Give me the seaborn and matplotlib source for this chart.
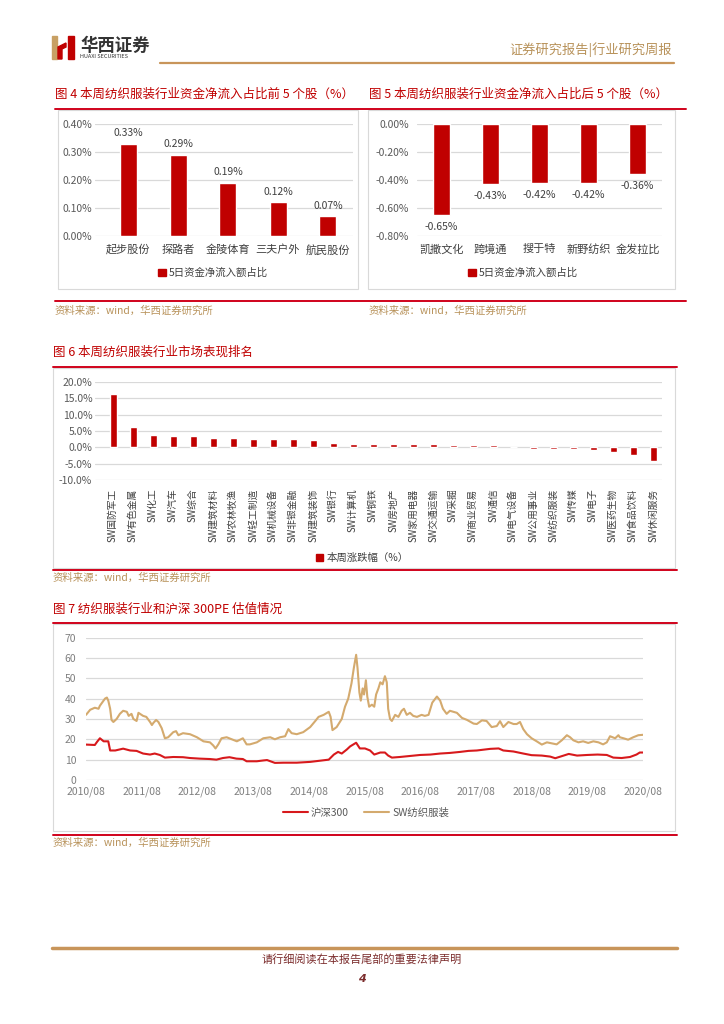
import matplotlib
matplotlib.use("Agg")
import matplotlib.pyplot as plt
import seaborn as sns
import pandas as pd
from matplotlib.lines import Line2D
from matplotlib.patches import Rectangle, Patch, Polygon

sns.set_style("white")
plt.rcParams['font.family'] = ['Noto Sans CJK SC', 'DejaVu Sans']
plt.rcParams['axes.unicode_minus'] = False

# ---- data ----
top5_names = ['起步股份', '探路者', '金陵体育', '三夫户外', '航民股份']
top5_vals = [0.33, 0.29, 0.19, 0.12, 0.07]

bot5_names = ['凯撒文化', '跨境通', '搜于特', '新野纺织', '金发拉比']
bot5_vals = [-0.65, -0.43, -0.42, -0.42, -0.36]

ind_names = ['SW国防军工', 'SW有色金属', 'SW化工', 'SW汽车', 'SW综合', 'SW建筑材料',
             'SW农林牧渔', 'SW轻工制造', 'SW机械设备', 'SW非银金融', 'SW建筑装饰',
             'SW银行', 'SW计算机', 'SW钢铁', 'SW房地产', 'SW家用电器', 'SW交通运输',
             'SW采掘', 'SW商业贸易', 'SW通信', 'SW电气设备', 'SW公用事业', 'SW纺织服装',
             'SW传媒', 'SW电子', 'SW医药生物', 'SW食品饮料', 'SW休闲服务']
ind_vals = [16.3, 6.1, 3.7, 3.6, 3.4, 3.0, 2.8, 2.7, 2.4, 2.4, 2.3, 1.4, 1.1, 1.0,
            0.9, 0.9, 0.9, 0.8, 0.8, 0.6, 0.05, -0.4, -0.4, -0.6, -0.9, -1.4, -2.3, -4.3]

# months since 2010/08
tex_m = [0, 0.9, 1.9, 2.7, 3, 4.1, 4.5, 4.8, 5.2, 5.5, 5.9, 6.6, 7.3, 8, 8.8, 9.2, 9.8,
         10.2, 10.9, 11.3, 12.3, 13, 13.8, 14.2, 14.5, 15.1, 15.6, 16.3, 17, 17.7, 18.8,
         19.4, 19.9, 20.9, 22.4, 23.9, 25.3, 26.7, 27.4, 27.9, 28.5, 29.2, 30.3, 31.4,
         32.5, 33.8, 34.6, 35.3, 36.8, 38.2, 39.7, 40.7, 41.8, 42.9, 43.6, 44.3, 45.4,
         46.8, 48.3, 49.4, 50.1, 51.2, 52.3, 52.7, 53.1, 54, 55.1, 55.8, 56.5, 57.2,
         57.7, 58.2, 58.5, 58.9, 59.2, 59.6, 59.9, 60.3, 60.6, 61, 61.6, 62.1, 62.5, 63,
         63.4, 63.9, 64.4, 64.8, 65.1, 65.5, 65.9, 66.6, 67.3, 68, 68.5, 69.1, 69.8,
         70.5, 71.3, 72.3, 73, 73.8, 74.6, 75.6, 76.3, 76.9, 77.7, 78.4, 79.9, 81, 82.1,
         83.5, 84.2, 85.3, 86.3, 87.4, 88.5, 89.2, 89.9, 91, 92.1, 92.8, 93.5, 94.2, 95,
         96, 97.1, 98.2, 99.3, 100.4, 101.4, 102.5, 103.6, 104.3, 105, 106.1, 107.1,
         108.2, 109.3, 110.4, 111.4, 112.2, 112.9, 114, 114.7, 115, 115.8, 116.8, 117.9,
         119, 120]
tex_pe = [32, 34.5, 35.5, 35, 36.5, 40, 40.5, 39, 35, 29.5, 28.5, 30, 32.5, 34, 33.5,
          31.5, 32.5, 30, 29, 33, 31.5, 31, 28.5, 27, 28, 29.5, 28.5, 25.5, 20.5, 21,
          23.5, 24, 22, 23, 22.5, 21, 19, 18.5, 17, 15.5, 17.5, 20.5, 21, 20, 19, 20.5,
          17.5, 17.5, 18.5, 20.5, 21, 20, 21, 21.5, 25, 23, 22.5, 23.5, 26, 29, 31, 32,
          33.5, 31, 24.5, 26, 30, 36, 40, 47.5, 55, 61.5, 55, 43, 39, 45, 42, 49, 41,
          36, 37, 36, 42, 45, 48, 47, 51, 48, 35, 30, 29, 32, 31, 34, 35, 32, 33, 31.5,
          31, 32, 31.5, 32, 38, 41, 39, 35, 32.5, 34, 33, 30.5, 29.5, 27.7, 27.5, 29.3,
          29, 26, 26.5, 28.9, 26, 28.5, 27.5, 27.5, 28.5, 25, 22.5, 20.5, 19, 17.4, 18.5,
          18, 17.5, 19.5, 22, 21, 19.5, 18.5, 19, 18.2, 19, 18.5, 17.5, 18.5, 21.5, 20.5,
          22, 21, 20.5, 19.8, 21, 22, 22.2]

hs_m = [0, 1.9, 2.4, 3, 3.8, 4.8, 5.2, 6.3, 8, 9.5, 10.9, 12.3, 13.8, 14.8, 15.9, 17,
        18.8, 20.9, 22.4, 24.5, 26.7, 28.1, 29.5, 30.9, 32.4, 33.8, 34.6, 36.8, 38.2, 39,
        40.7, 42.5, 45.4, 48.3, 50.5, 52.3, 53.4, 54.3, 55.1, 56.2, 56.9, 58.2, 59, 60.1,
        61.2, 62.1, 63.4, 64.4, 65.1, 65.9, 67.6, 69.8, 72, 74.2, 76.3, 78.4, 80.6, 82.4,
        84.2, 87.1, 88.9, 89.9, 92.1, 94.2, 96, 98.2, 100, 101.1, 102.9, 104, 105.8, 108,
        110.2, 112.2, 113.6, 115.4, 117.2, 118.6, 119.3, 120]
hs_pe = [17.4, 17.2, 18.8, 20.5, 19, 19, 14.5, 14.5, 15.4, 14.5, 14.3, 13, 12.5, 13,
         12.3, 11, 11.3, 11.2, 10.8, 10.5, 10.3, 10, 10.8, 11.2, 10.5, 10.3, 9.2, 9.2,
         9.6, 9.8, 8.4, 8.5, 8.5, 8.9, 9.5, 10, 12.5, 13.8, 13, 15, 16.5, 18.3, 15.5,
         15.5, 14.5, 12.5, 13.5, 13.5, 12, 11, 11.3, 11.8, 12.3, 12.5, 13, 13.3, 13.8,
         14.3, 14.5, 15.3, 15.5, 14.5, 14, 13, 12.2, 12, 11.5, 10.7, 12, 12.8, 12, 12.3,
         12.5, 12.3, 11, 10.8, 11.3, 12.5, 13.5, 13.5]
year_labels = ['2010/08', '2011/08', '2012/08', '2013/08', '2014/08', '2015/08',
               '2016/08', '2017/08', '2018/08', '2019/08', '2020/08']

RED = '#c00000'
LINE_RED = '#d7191c'
TAN = '#d4aa6e'
GOLD = '#b8925a'
GRID = '#d9d9d9'
TICK = '#595959'

W, H = 724, 1024
fig = plt.figure(figsize=(W / 100, H / 100), dpi=100)


def fx(x):
    return x / W


def fy(y):
    return 1 - y / H


def add_ax(x0, y0, x1, y1):
    return fig.add_axes([fx(x0), fy(y1), (x1 - x0) / W, (y1 - y0) / H])


def hline(x0, x1, y, color, lw):
    fig.add_artist(Line2D([fx(x0), fx(x1)], [fy(y), fy(y)], color=color, lw=lw))


def box(x0, y0, x1, y1):
    fig.add_artist(Rectangle((fx(x0), fy(y1)), (x1 - x0) / W, (y1 - y0) / H,
                             fill=False, ec=GRID, lw=0.8, transform=fig.transFigure))


def txt(x, y, s, **kw):
    fig.text(fx(x), fy(y), s, **kw)


def style(ax):
    sns.despine(ax=ax, left=True, bottom=True)
    ax.grid(axis='y', color=GRID, lw=0.9)
    ax.grid(axis='x', visible=False)
    ax.set_axisbelow(True)
    ax.tick_params(length=0, colors=TICK, labelsize=7.5)
    ax.set_xlabel('')
    ax.set_ylabel('')


def legend_box(ax, cx, cy, label):
    ax.legend(handles=[Patch(color=RED, label=label)], loc='center',
              bbox_to_anchor=(fx(cx), fy(cy)), bbox_transform=fig.transFigure,
              frameon=False, fontsize=7.5, handlelength=0.7, handleheight=0.7,
              handletextpad=0.3, labelcolor='#404040')


# ---- header ----
fig.add_artist(Rectangle((fx(52), fy(59)), 5 / W, 23 / H, color='#c8a064',
                         transform=fig.transFigure))
fig.add_artist(Polygon([(fx(58), fy(47)), (fx(66), fy(43)), (fx(66), fy(47)), (fx(62), fy(49)),
                        (fx(62), fy(59)), (fx(58), fy(59))], color=RED,
                       transform=fig.transFigure))
fig.add_artist(Rectangle((fx(68), fy(59)), 6 / W, 23 / H, color=RED,
                         transform=fig.transFigure))
txt(80, 46, '华西证券', fontsize=12.5, fontweight='bold', color='#333333', va='center')
txt(80, 57, 'HUAXI SECURITIES', fontsize=4, color='#333333', va='center')
txt(672, 50, '证券研究报告|行业研究周报', fontsize=9.5, color=GOLD, ha='right', va='center')
hline(160, 674, 63, '#c8955a', 1.6)

# ---- fig 4 / 5 ----
txt(55, 94, '图 4 本周纺织服装行业资金净流入占比前 5 个股（%）', fontsize=9, color=RED, va='center')
txt(369, 94, '图 5 本周纺织服装行业资金净流入占比后 5 个股（%）', fontsize=9, color=RED, va='center')
hline(55, 686, 109, '#d0021b', 1.4)
hline(55, 686, 301, '#d0021b', 1.4)
box(58, 110, 358, 289)
box(368, 110, 675, 289)
txt(55, 311, '资料来源：wind，华西证券研究所', fontsize=7.5, color=GOLD, va='center')
txt(369, 311, '资料来源：wind，华西证券研究所', fontsize=7.5, color=GOLD, va='center')

ax4 = add_ax(95, 124, 353, 236)
sns.barplot(x=top5_names, y=top5_vals, color=RED, saturation=1, width=0.34, ax=ax4)
ax4.set_ylim(0, 0.4)
ax4.set_xlim(-0.66, 4.5)
ax4.set_yticks([0, 0.1, 0.2, 0.3, 0.4])
ax4.set_yticklabels([f'{v:.2f}%' for v in [0, 0.1, 0.2, 0.3, 0.4]])
style(ax4)
ax4.tick_params(axis='y', pad=2)
ax4.tick_params(axis='x', labelsize=8, labelcolor='#404040', pad=6)
ax4.bar_label(ax4.containers[0], labels=[f'{v:.2f}%' for v in top5_vals], padding=4,
              fontsize=7.5, color='#404040')
legend_box(ax4, 213, 273, '5日资金净流入额占比')

ax5 = add_ax(417, 124, 662, 236)
sns.barplot(x=bot5_names, y=bot5_vals, color=RED, saturation=1, width=0.34, ax=ax5)
ax5.set_ylim(-0.8, 0)
ax5.set_xlim(-0.5, 4.5)
ax5.set_yticks([0, -0.2, -0.4, -0.6, -0.8])
ax5.set_yticklabels([f'{v:.2f}%' if v != 0 else '0.00%' for v in [0, -0.2, -0.4, -0.6, -0.8]])
style(ax5)
ax5.tick_params(axis='y', pad=6)
ax5.tick_params(axis='x', labelsize=8, labelcolor='#404040', pad=6)
ax5.bar_label(ax5.containers[0], labels=[f'{v:.2f}%' for v in bot5_vals], padding=5,
              fontsize=7.5, color='#404040')
legend_box(ax5, 523, 273, '5日资金净流入额占比')

# ---- fig 6 ----
txt(53, 352, '图 6 本周纺织服装行业市场表现排名', fontsize=9, color=RED, va='center')
hline(53, 677, 367, '#d0021b', 1.4)
hline(53, 677, 570, '#d0021b', 1.4)
box(53, 368, 675, 568)
txt(53, 578, '资料来源：wind，华西证券研究所', fontsize=7.5, color=GOLD, va='center')

ax6 = add_ax(95, 382, 662, 480)
sns.barplot(x=ind_names, y=ind_vals, color=RED, saturation=1, width=0.35, ax=ax6)
ax6.set_ylim(-10, 20)
ax6.set_xlim(-0.9, 27.45)
ax6.set_yticks([20, 15, 10, 5, 0, -5, -10])
ax6.set_yticklabels([f'{v:.1f}%' for v in [20, 15, 10, 5, 0, -5, -10]])
style(ax6)
ax6.tick_params(axis='y', pad=2)
ax6.tick_params(axis='x', labelsize=7, labelcolor='#404040', pad=6, labelrotation=90)
legend_box(ax6, 362, 558, '本周涨跌幅（%）')

# ---- fig 7 ----
txt(53, 609, '图 7 纺织服装行业和沪深 300PE 估值情况', fontsize=9, color=RED, va='center')
hline(53, 677, 623, '#d0021b', 1.4)
hline(53, 677, 835, '#d0021b', 1.4)
box(53, 624, 675, 831)
txt(53, 843, '资料来源：wind，华西证券研究所', fontsize=7.5, color=GOLD, va='center')

ax7 = add_ax(86, 637.5, 643, 780)
hs = pd.DataFrame({'m': hs_m, 'pe': hs_pe})
tex = pd.DataFrame({'m': tex_m, 'pe': tex_pe})
sns.lineplot(data=hs, x='m', y='pe', color=LINE_RED, lw=1.5, ax=ax7, label='沪深300')
sns.lineplot(data=tex, x='m', y='pe', color=TAN, lw=1.5, ax=ax7, label='SW纺织服装')
ax7.set_xlim(0, 120)
ax7.set_ylim(0, 70)
ax7.set_yticks(range(0, 71, 10))
ax7.set_xticks(range(0, 121, 12))
ax7.set_xticklabels(year_labels)
style(ax7)
ax7.tick_params(colors='#7f7f7f', labelsize=7.5)
ax7.tick_params(axis='y', pad=7)
ax7.tick_params(axis='x', pad=5)
ax7.legend(loc='center', bbox_to_anchor=(fx(366), fy(813)), bbox_transform=fig.transFigure,
           ncol=2, frameon=False, fontsize=7.5, handlelength=2.4, columnspacing=1.5,
           handletextpad=0.3, labelcolor='#595959')

# ---- footer ----
hline(52, 677, 948, '#c8955a', 2.5)
txt(362, 959, '请行细阅读在本报告尾部的重要法律声明', fontsize=8, color='#7b2c2c', ha='center', va='center')
txt(362, 979, '4', fontsize=8, color='#7b2c2c', ha='center', va='center',
    fontweight='bold', style='italic', family='DejaVu Sans')

fig.savefig('out.png', dpi=100, facecolor='white')
